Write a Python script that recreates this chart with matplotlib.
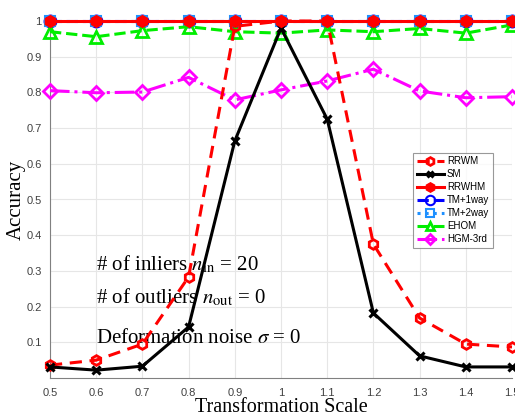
import matplotlib
matplotlib.use("Agg")
import matplotlib.pyplot as plt
import numpy as np

scales = [0.5, 0.6, 0.7, 0.8, 0.9, 1.0, 1.1, 1.2, 1.3, 1.4, 1.5]
rrwm = [0.036, 0.050, 0.095, 0.283, 0.985, 1.0, 1.0, 0.375, 0.168, 0.095, 0.087]
sm = [0.031, 0.022, 0.033, 0.143, 0.664, 0.980, 0.725, 0.182, 0.062, 0.031, 0.031]
rrwhm = [1.0] * 11
tm1 = [1.0] * 11
tm2 = [1.0] * 11
ehom = [0.970, 0.956, 0.973, 0.984, 0.970, 0.966, 0.975, 0.970, 0.979, 0.966, 0.989]
hgm = [0.805, 0.799, 0.801, 0.842, 0.779, 0.807, 0.832, 0.865, 0.804, 0.785, 0.788]

xticks = [0.5, 0.6, 0.7, 0.8, 0.9, 1.0, 1.1, 1.2, 1.3, 1.4, 1.5]
xticklabels = ['0.5', '0.6', '0.7', '0.8', '0.9', '1', '1.1', '1.2', '1.3', '1.4', '1.5']
yticks = [0.1, 0.2, 0.3, 0.4, 0.5, 0.6, 0.7, 0.8, 0.9, 1.0]
yticklabels = ['0.1', '0.2', '0.3', '0.4', '0.5', '0.6', '0.7', '0.8', '0.9', '1']

plt.rcParams['mathtext.fontset'] = 'stix'
fig = plt.figure(figsize=(5.15, 4.19), dpi=100)
ax = fig.add_axes([50/515, 1-378/419, 462/515, 357/419])

lw = 2.2
ms = 7
ax.plot(scales, tm1, color='#0000ff', ls='--', lw=lw, marker='o', ms=ms+1.5,
        mfc='none', mec='#0000ff', mew=1.5, label='TM+1way', clip_on=False, zorder=3)
ax.plot(scales, tm2, color='#1e90ff', ls=':', lw=lw, marker='s', ms=ms,
        mfc='none', mec='#1e90ff', mew=1.5, label='TM+2way', clip_on=False, zorder=3)
ax.plot(scales, ehom, color='#00ee00', ls='--', lw=lw, marker='^', ms=ms+1,
        mfc='none', mec='#00ee00', mew=2, label='EHOM', clip_on=False, zorder=3)
ax.plot(scales, hgm, color='#ff00ff', ls='-.', lw=lw, marker='D', ms=ms,
        mfc='none', mec='#ff00ff', mew=2, label='HGM-3rd', clip_on=False, zorder=3)
ax.plot(scales, rrwm, color='#ff0000', ls='--', lw=lw, marker='h', ms=ms,
        mfc='none', mec='#ff0000', mew=2, label='RRWM', clip_on=False, zorder=4, dashes=(4, 2.5))
ax.plot(scales, sm, color='black', ls='-', lw=lw, marker='x', ms=ms-1,
        mew=2.2, label='SM', clip_on=False, zorder=4)
ax.plot(scales, rrwhm, color='#ff0000', ls='-', lw=lw, marker='h', ms=ms+1.5,
        mfc='#ff0000', mec='#ff0000', mew=1, label='RRWHM', clip_on=False, zorder=5)

ax.set_xlim(0.5, 1.5)
ax.set_ylim(0.0, 1.0)
ax.set_xticks(xticks)
ax.set_xticklabels(xticklabels, family='Liberation Sans')
ax.set_yticks(yticks)
ax.set_yticklabels(yticklabels, family='Liberation Sans')
ax.tick_params(axis='both', labelsize=8, colors='#404040', length=0)
ax.tick_params(axis='x', pad=7)
ax.tick_params(axis='y', pad=6)
ax.grid(True, color='#e6e6e6', lw=0.8)
ax.set_axisbelow(True)
for s in ['top', 'right']:
    ax.spines[s].set_visible(False)
for s in ['left', 'bottom']:
    ax.spines[s].set_color('#808080')
    ax.spines[s].set_linewidth(0.8)

ax.set_xlabel('Transformation Scale', family='Liberation Serif', fontsize=14.5, labelpad=0.5)
ax.set_ylabel('Accuracy', family='Liberation Serif', fontsize=15, labelpad=0)

tfont = dict(family='Liberation Serif', fontsize=15, color='black')
ax.text(0.6, 0.302, r'# of inliers $n_{\mathrm{in}}$ = 20', **tfont)
ax.text(0.6, 0.21, r'# of outliers $n_{\mathrm{out}}$ = 0', **tfont)
ax.text(0.6, 0.098, r'Deformation noise $\sigma$ = 0', **tfont)

h, l = ax.get_legend_handles_labels()
order = ['RRWM', 'SM', 'RRWHM', 'TM+1way', 'TM+2way', 'EHOM', 'HGM-3rd']
hd = dict(zip(l, h))
leg = ax.legend([hd[k] for k in order], order, loc='upper left',
                bbox_to_anchor=(0.775, 0.645), prop={'family': 'Liberation Sans', 'size': 7},
                frameon=True, fancybox=False, edgecolor='#808080', handlelength=2.8,
                labelspacing=0.3, borderpad=0.4, handletextpad=0.3, markerscale=0.8)
leg.get_frame().set_linewidth(0.8)

fig.savefig('out.png', dpi=100)
